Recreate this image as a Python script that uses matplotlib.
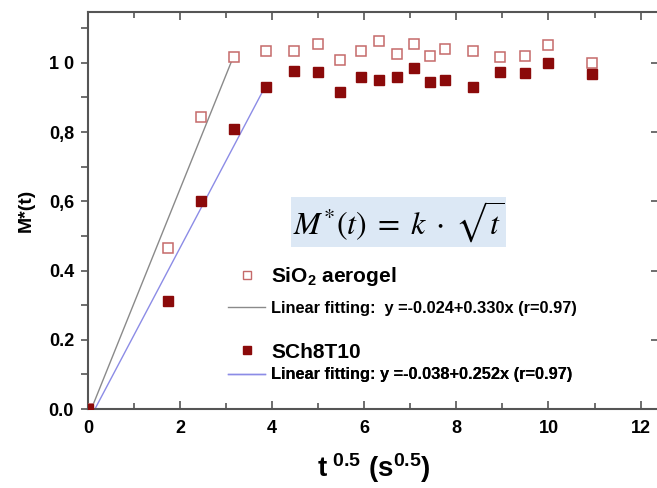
import matplotlib
matplotlib.use("Agg")
import matplotlib.pyplot as plt
from matplotlib.lines import Line2D
from matplotlib.ticker import MultipleLocator, FixedLocator, NullFormatter
import numpy as np

plt.rcParams['font.family'] = ['Liberation Sans', 'DejaVu Sans']
plt.rcParams['mathtext.fontset'] = 'custom'
plt.rcParams['mathtext.rm'] = 'Liberation Sans:bold'
plt.rcParams['mathtext.it'] = 'Liberation Sans:bold'
plt.rcParams['mathtext.bf'] = 'Liberation Sans:bold'

# data (x = sqrt(t))
t_sqrt = [0, 1.73, 2.45, 3.16, 3.87, 4.47, 5.0, 5.48, 5.92, 6.32, 6.71,
          7.07, 7.42, 7.75, 8.37, 8.94, 9.49, 10.0, 10.95]
m_sio2 = [0, 0.465, 0.844, 1.017, 1.035, 1.035, 1.055, 1.009, 1.035, 1.064,
          1.026, 1.055, 1.020, 1.040, 1.033, 1.018, 1.020, 1.052, 1.000]
m_sch = [0, 0.312, 0.601, 0.809, 0.930, 0.977, 0.974, 0.917, 0.960, 0.951,
         0.958, 0.985, 0.944, 0.951, 0.931, 0.974, 0.971, 1.000, 0.968]

# linear fits: intercept, slope, x range
fit_sio2 = (-0.024, 0.330)
fit_sch = (-0.038, 0.252)
fit_sio2_x = [0.073, 3.16]
fit_sch_x = [0.151, 3.87]

lbl_sio2 = r'SiO$_2$ aerogel'
lbl_fit_sio2 = 'Linear fitting:  y =-0.024+0.330x (r=0.97)'
lbl_sch = 'SCh8T10'
lbl_fit_sch = 'Linear fitting: y =-0.038+0.252x (r=0.97)'

open_col = '#c56a6a'
fill_col = '#8b0a0a'
gray_col = '#8a8a8a'
blue_col = '#8c8ce6'
spine_col = '#555555'

W, H = 657, 488
fig = plt.figure(figsize=(W / 100, H / 100), dpi=100)
L, R, B, T = 88, 659, 409, 12
ax = fig.add_axes([L / W, 1 - B / H, (R - L) / W, (B - T) / H])

xs = np.array(fit_sio2_x)
ax.plot(xs, fit_sio2[0] + fit_sio2[1] * xs, color=gray_col, lw=1.0, zorder=2)
xs = np.array(fit_sch_x)
ax.plot(xs, fit_sch[0] + fit_sch[1] * xs, color=blue_col, lw=1.0, zorder=2)

ax.plot(t_sqrt, m_sio2, 's', ms=7, mfc='white', mec=open_col, mew=1.1, zorder=3)
ax.plot(t_sqrt, m_sch, 's', ms=7, mfc=fill_col, mec=fill_col, zorder=4)

ax.set_xlim(0, 12.4)
ax.set_ylim(0, 1.147)

ax.xaxis.set_major_locator(MultipleLocator(2))
ax.xaxis.set_minor_locator(MultipleLocator(1))
ax.yaxis.set_major_locator(FixedLocator([0, 0.2, 0.4, 0.6, 0.8, 1.0]))
ax.set_yticklabels(['0.0', '0.2', '0.4', '0,6', '0,8', '1 0'])
ax.yaxis.set_minor_locator(MultipleLocator(0.1))

for s in ax.spines.values():
    s.set_color(spine_col)
    s.set_linewidth(1.5)
ax.tick_params(axis='x', which='both', direction='in', top=True, bottom=True,
               color=spine_col, width=1.2, labelsize=13, pad=8)
ax.tick_params(axis='x', which='major', length=6)
ax.tick_params(axis='x', which='minor', length=4)
ax.tick_params(axis='y', which='both', direction='out', left=True, right=False,
               color=spine_col, width=1.2, labelsize=13, pad=5)
ax.tick_params(axis='y', which='major', length=5)
ax.tick_params(axis='y', which='minor', length=5)
for lab in ax.get_xticklabels() + ax.get_yticklabels():
    lab.set_fontweight('bold')

# inward ticks on the right side (spine itself falls off the picture)
rax = ax.secondary_yaxis('right')
rax.yaxis.set_major_locator(MultipleLocator(0.2))
rax.yaxis.set_major_formatter(NullFormatter())
rax.tick_params(direction='in', length=6, width=1.2, color=spine_col)
rax.spines['right'].set_color(spine_col)

ax.set_ylabel('M*(t)', fontsize=14, fontweight='bold', labelpad=10)
ax.set_xlabel(r'$\mathbf{t^{\ 0.5}\ (s^{0.5})}$', fontsize=20, fontweight='bold',
              math_fontfamily='custom', labelpad=10)

ax.text(0.544, 0.471, r'$M^{*}(t)\;=\;k\;\cdot\;\sqrt{t}$', transform=ax.transAxes,
        fontsize=23, math_fontfamily='stix',
        ha='center', va='center',
        bbox=dict(boxstyle='square,pad=0.06', fc='#dce8f5', ec='none'))


def add_entry(handle, label, size, ycen):
    fpx = size * 100 / 72
    leg = ax.legend([handle], [label], loc='center left',
                    bbox_to_anchor=((228 - L) / (R - L), (B - ycen) / (B - T)),
                    frameon=False, borderpad=0, borderaxespad=0,
                    handlelength=37 / fpx, handletextpad=6 / fpx,
                    prop={'size': size, 'weight': 'bold'})
    ax.add_artist(leg)


add_entry(Line2D([], [], ls='none', marker='s', ms=5.5, mfc='white', mec=open_col, mew=1.0),
          lbl_sio2, 15, 277)
add_entry(Line2D([], [], color=gray_col, lw=1.0), lbl_fit_sio2, 11.8, 308)
add_entry(Line2D([], [], ls='none', marker='s', ms=5.5, mfc=fill_col, mec=fill_col),
          lbl_sch, 15, 352)
add_entry(Line2D([], [], color=blue_col, lw=1.0), lbl_fit_sch, 11.8, 375)

fig.savefig('out.png', dpi=100)
